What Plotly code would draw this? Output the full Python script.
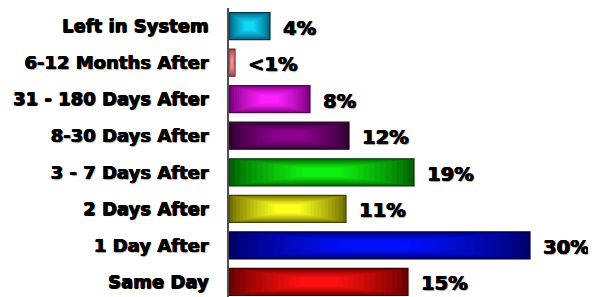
import plotly.graph_objects as go

# ---- data (bottom -> top) ----
categories = ["Same Day", "1 Day After", "2 Days After", "3 - 7 Days After",
              "8-30 Days After", "31 - 180 Days After", "6-12 Months After", "Left in System"]
bar_lengths = [17.9, 30.1, 11.7, 18.5, 12.0, 8.1, 0.6, 4.1]
label_texts = ["15%", "30%", "11%", "19%", "12%", "8%", "<1%", "4%"]

edge_colors = ["#6e0000", "#00006e", "#6e6e00", "#006400", "#300030", "#7a007a", "#a04040", "#006080"]
center_colors = ["#ff1010", "#0010ff", "#ffff20", "#10f010", "#900090", "#ff20ff", "#f09090", "#10d8f8"]
line_colors = ["#400000", "#000040", "#404000", "#003000", "#200020", "#500050", "#602020", "#003040"]


def hex_to_rgb(h):
    h = h.lstrip("#")
    return tuple(int(h[i:i + 2], 16) for i in (0, 2, 4))


def mix(c1, c2, t):
    a, b = hex_to_rgb(c1), hex_to_rgb(c2)
    return "rgb(%d,%d,%d)" % tuple(round(a[i] + (b[i] - a[i]) * t) for i in range(3))


fig = go.Figure()
n_layers = 14
full_width = 0.74
for k in range(n_layers):
    t = k / (n_layers - 1)
    frac = k / n_layers * 0.85
    bases = [v * frac / 2 for v in bar_lengths]
    lens = [v * (1 - frac) for v in bar_lengths]
    width = full_width * (1 - 0.75 * k / n_layers)
    fig.add_trace(go.Bar(
        y=list(range(len(categories))), x=lens, base=bases, orientation="h",
        width=width,
        marker=dict(color=[mix(e, c, t ** 0.8) for e, c in zip(edge_colors, center_colors)],
                    line=dict(color=line_colors if k == 0 else "rgba(0,0,0,0)", width=1.2 if k == 0 else 0)),
        hoverinfo="skip", showlegend=False,
    ))

heavy_shadow = "0.6px 0 0 #000, -0.3px 0 0 #000, 0 0.4px 0 #000, 1px 1px 1px #a0a0a0"

for i, (v, txt) in enumerate(zip(bar_lengths, label_texts)):
    fig.add_annotation(x=v, y=i, text=txt, showarrow=False, xanchor="left", yanchor="middle",
                       xshift=11, yshift=-2,
                       font=dict(family="DejaVu Sans", size=19.5, color="black", weight="bold",
                                 shadow=heavy_shadow))

# the page body has an 8px margin, so the figure is sized to fill the rest of the window
fig.update_layout(
    width=588, height=289,
    margin=dict(l=221, r=0, t=0, b=0),
    paper_bgcolor="white", plot_bgcolor="white",
    barmode="overlay",
    xaxis=dict(range=[0, 36.7], visible=False, fixedrange=True),
    yaxis=dict(range=[-0.411, 7.493], tickmode="array", tickvals=list(range(len(categories))),
               ticktext=categories, showgrid=False, zeroline=False,
               showline=True, linecolor="#505050", linewidth=1.5,
               ticks="", ticklabelstandoff=15,
               tickfont=dict(family="DejaVu Sans", size=18, color="black", weight="bold",
                             shadow=heavy_shadow)),
)

fig.write_html("out.html")
